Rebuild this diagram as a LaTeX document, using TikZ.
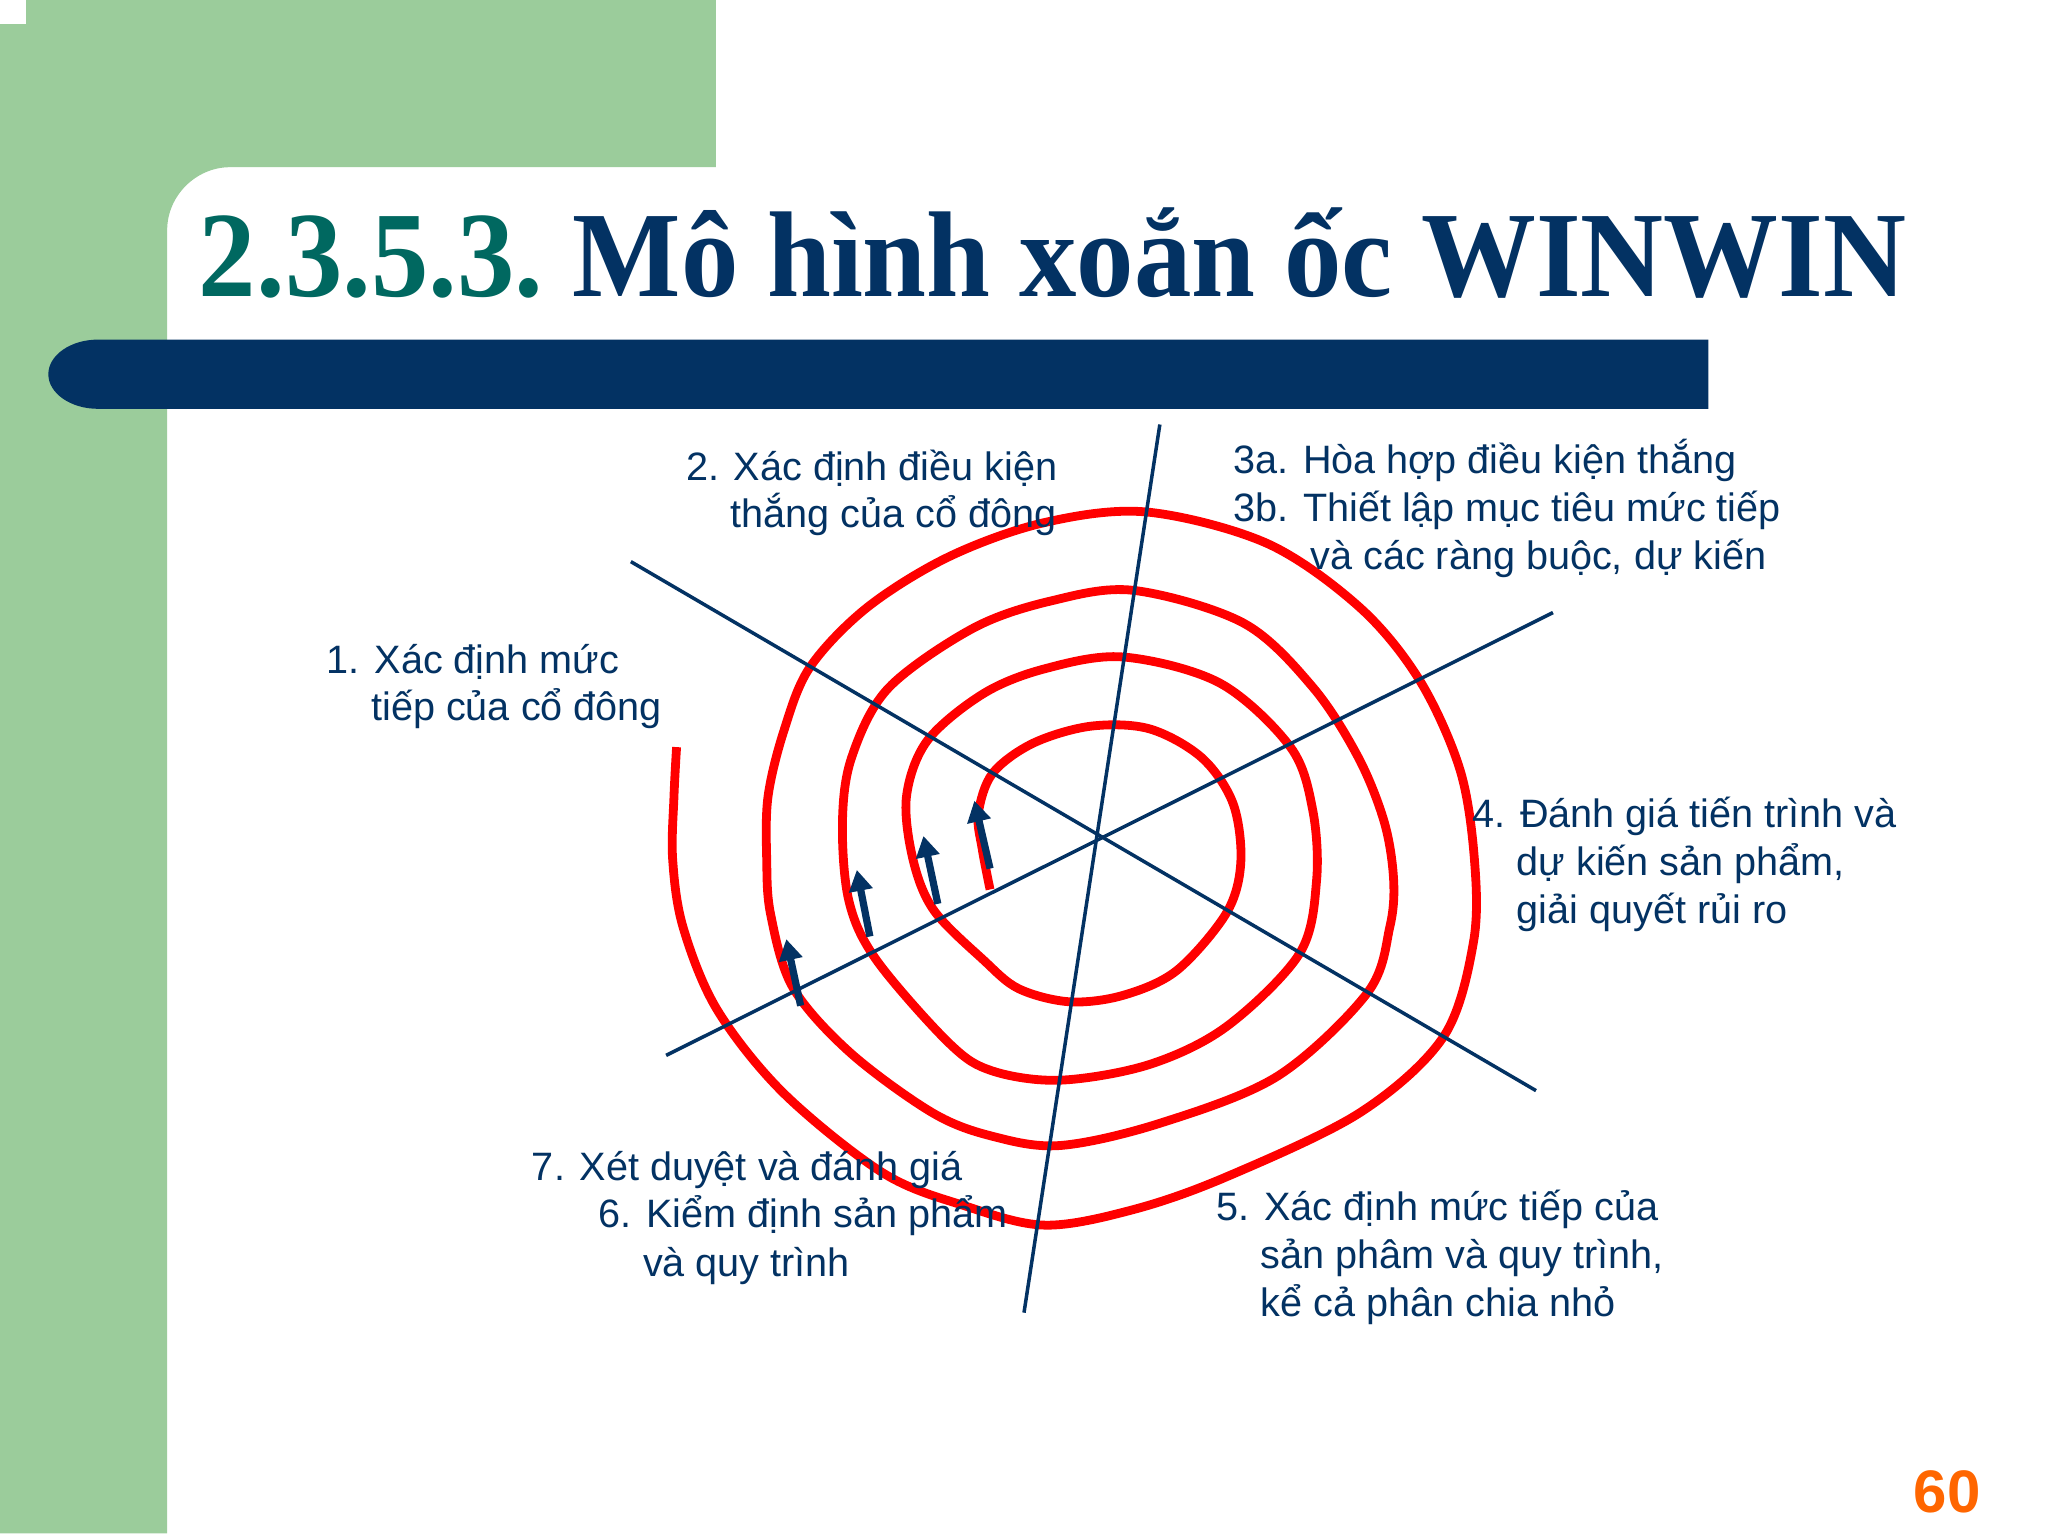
\documentclass[tikz,border=0pt]{standalone}
\usepackage{fontspec}
\usepackage{graphicx}
\setmainfont{Liberation Sans}
\newfontfamily\titlefont{Liberation Serif}
\usetikzlibrary{arrows.meta}
\definecolor{greenbg}{RGB}{155,204,155}
\definecolor{navy}{RGB}{3,50,99}
\definecolor{tealt}{RGB}{0,104,96}
\definecolor{orangepg}{RGB}{255,102,0}
\definecolor{spiralred}{RGB}{255,0,0}
\tikzset{
  lbl/.style={anchor=base west, inner sep=0pt, text=navy, font=\fontsize{19.8pt}{24pt}\selectfont},
  axisline/.style={draw=navy, line width=1.75pt},
  spiralline/.style={draw=spiralred, line width=4.4pt},
  uparrow/.style={draw=navy, line width=3.6pt, -{Triangle[width=11.5pt,length=10.5pt]}}
}
\begin{document}
\begin{tikzpicture}[x=0.653pt, y=-0.653pt]
\useasboundingbox (0,0) rectangle (1568,1174);
\fill[white] (0,0) rectangle (1568,1174);
% green L-shaped background with rounded inner corner
\fill[greenbg] (0,0) -- (548,0) -- (548,128) -- (176,128)
  .. controls (150,128) and (128,150) .. (128,176) -- (128,1174) -- (0,1174) -- cycle;
\fill[white] (0,0) rectangle (20,18);
% navy bar
\fill[navy] (75,260) -- (1308,260) -- (1308,313) -- (75,313)
  .. controls (54,313) and (37,301) .. (37,286.5)
  .. controls (37,272) and (54,260) .. (75,260) -- cycle;
% title
\node[anchor=base west, inner sep=0pt] (title) at (152,227)
  {\titlefont\bfseries\fontsize{61pt}{61pt}\selectfont\scalebox{0.941}[1]{\textcolor{tealt}{2.3.5.3.}\hspace{15.6pt}\textcolor{navy}{Mô hình xoắn ốc WINWIN}}};
% spiral
\draw[spiralline] plot[smooth, tension=0.55] coordinates {
(758,681) (752,650) (749,623) (760,592) (791,569) (835,556) (880,558) (920,580)
(944,615) (950,660) (939,699) (901,743) (860,762) (819,767) (780,757) (753,735)
(715,697) (699,658) (694,610) (710,567) (753,531) (800,512) (860,503) (934,523)
(988,572) (1005,620) (1008,674) (995,730) (939,786) (880,815) (812,827) (760,820)
(727,799) (671,735) (650,690) (645,630) (652,580) (680,527) (745,481) (805,460)
(868,452) (952,477) (1005,526) (1040,580) (1060,630) (1067,674) (1064,710) (1047,760)
(978,824) (888,860) (812,877) (760,870) (714,852) (651,806) (607,756) (590,700)
(587,658) (588,610) (600,560) (620,511) (664,465) (727,426) (800,400) (878,392)
(970,416) (1041,465) (1087,521) (1118,590) (1129,660) (1128,722) (1105,794) (1041,852)
(939,901) (868,926) (800,938) (738,923) (676,898) (600,837) (549,773) (523,710)
(515,658) (516,610) (518,572)};
% axis lines
\coordinate (v1) at (888,325);
\coordinate (v2) at (784,1005);
\coordinate (d1) at (483,430);
\coordinate (d2) at (1176,835);
\coordinate (e1) at (510,808);
\coordinate (e2) at (1189,469);
\draw[axisline] (v1) -- (v2);
\draw[axisline] (d1) -- (d2);
\draw[axisline] (e1) -- (e2);
% arrows
\coordinate (a1s) at (758,665); \coordinate (a1e) at (746,613);
\coordinate (a2s) at (718,692); \coordinate (a2e) at (707,640);
\coordinate (a3s) at (666,717); \coordinate (a3e) at (656,666);
\coordinate (a4s) at (613,770); \coordinate (a4e) at (602,719);
\draw[uparrow] (a1s) -- (a1e);
\draw[uparrow] (a2s) -- (a2e);
\draw[uparrow] (a3s) -- (a3e);
\draw[uparrow] (a4s) -- (a4e);
% labels
\node[lbl] (l1a) at (250,515.5) {1. Xác định mức};
\node[lbl] (l1b) at (284,552) {tiếp của cổ đông};
\node[lbl] (l2a) at (525,367.5) {2. Xác định điều kiện};
\node[lbl] (l2b) at (559,404) {thắng của cổ đông};
\node[lbl] (l3a) at (944,362.5) {3a. Hòa hợp điều kiện thắng};
\node[lbl] (l3b) at (944,399) {3b. Thiết lập mục tiêu mức tiếp};
\node[lbl] (l3c) at (1003,436) {và các ràng buộc, dự kiến};
\node[lbl] (l4a) at (1127,633.5) {4. Đánh giá tiến trình và};
\node[lbl] (l4b) at (1161,670) {dự kiến sản phẩm,};
\node[lbl] (l4c) at (1161,707) {giải quyết rủi ro};
\node[lbl] (l5a) at (931,934.5) {5. Xác định mức tiếp của};
\node[lbl] (l5b) at (965,971) {sản phâm và quy trình,};
\node[lbl] (l5c) at (965,1008) {kể cả phân chia nhỏ};
\node[lbl] (l7a) at (407,903.5) {7. Xét duyệt và đánh giá};
\node[lbl] (l7b) at (458,940) {6. Kiểm định sản phẩm};
\node[lbl] (l7c) at (492,977) {và quy trình};
% page number
\node[anchor=base west, inner sep=0pt, text=orangepg, font=\bfseries\fontsize{30pt}{30pt}\selectfont] (pg) at (1465,1158) {60};
\end{tikzpicture}
\end{document}
